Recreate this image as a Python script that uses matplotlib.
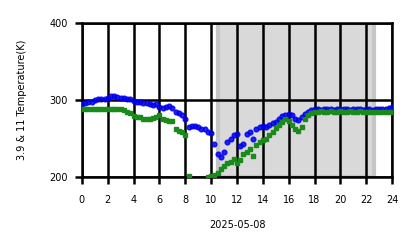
import numpy as np
import matplotlib
matplotlib.use("Agg")
import matplotlib.pyplot as plt

hours = np.arange(0, 24.01, 0.25)

t39 = [295, 296, 297, 298, 300, 301, 302, 302, 303, 305, 305, 304,
       303, 303, 302, 302, 299, 298, 297, 296, 296, 295, 294, 295,
       291, 290, 291, 292, 290, 285, 283, 281, 276, 265, 266, 266,
       265, 263, 262, 259, 257, 243, 230, 226, 233, 245, 250, 254,
       256, 240, 243, 256, 258, 250, 262, 265, 266, 265, 268, 270,
       272, 276, 279, 281, 282, 281, 276, 274, 278, 282, 285, 287,
       288, 288, 287, 288, 288, 288, 287, 288, 288, 288, 288, 287,
       288, 288, 288, 287, 288, 288, 287, 288, 288, 289, 289, 290, 291]

t11 = [289, 289, 289, 289, 288, 288, 288, 289, 289, 289, 288, 288,
       288, 287, 285, 283, 279, 278, 278, 276, 275, 275, 277, 278,
       280, 276, 274, 273, 273, 262, 260, 258, 255, 201, np.nan, np.nan,
       np.nan, np.nan, np.nan, 200, 201, 203, 205, 210, 214, 218, 220, 224,
       218, 222, 230, 232, 236, 228, 242, 246, 248, 250, 255, 259,
       264, 268, 272, 275, 273, 267, 262, 260, 265, 275, 280, 283,
       285, 285, 286, 285, 285, 286, 285, 285, 286, 285, 285, 286,
       285, 285, 286, 285, 285, 285, 285, 284, 284, 284, 284, 284, 284]

night_start, night_end = 10.5, 22.6
xticks = list(range(0, 25, 2))
yticks = [200, 300, 400]

fig = plt.figure(figsize=(4.18, 2.48), dpi=100)
ax = fig.add_axes([0.196, 0.286, 0.742, 0.621])

ax.axvspan(night_start, night_end, facecolor='#d9d9d9', edgecolor='#c6c6c6',
           linewidth=3, zorder=0)

ax.plot(hours, t39, linestyle='none', marker='o', markersize=3.4,
        color='#0000ee', alpha=0.85, zorder=3)
ax.plot(hours, t11, linestyle='none', marker='s', markersize=2.9,
        color='#1a8a1a', zorder=4)

ax.set_xlim(0, 24)
ax.set_ylim(200, 400)
ax.set_xticks(xticks)
ax.set_yticks(yticks)
ax.grid(True, color='black', linewidth=1.8, zorder=1)
ax.set_axisbelow(True)
for s in ax.spines.values():
    s.set_linewidth(1.8)
ax.tick_params(axis='both', length=5, width=1.8, labelsize=7)
ax.tick_params(axis='x', pad=8)
ax.tick_params(axis='y', pad=5)
ax.set_xlabel('2025-05-08', fontsize=7, labelpad=11)
ax.set_ylabel('3.9 & 11 Temperature(K)', fontsize=7, labelpad=16)

fig.savefig('out.png', dpi=100)
